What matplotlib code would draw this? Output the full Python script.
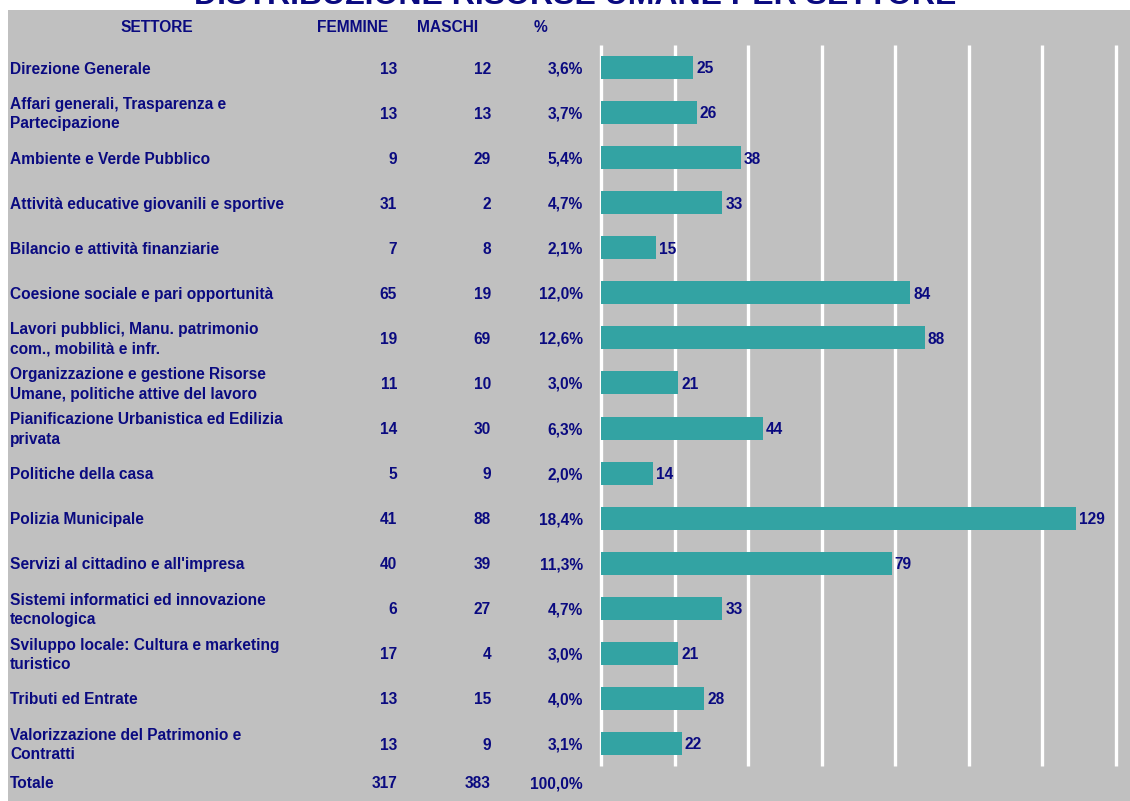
import matplotlib
matplotlib.use("Agg")
import matplotlib.pyplot as plt
from matplotlib.patches import Rectangle

settori = [
    "Direzione Generale",
    "Affari generali, Trasparenza e\nPartecipazione",
    "Ambiente e Verde Pubblico",
    "Attività educative giovanili e sportive",
    "Bilancio e attività finanziarie",
    "Coesione sociale e pari opportunità",
    "Lavori pubblici, Manu. patrimonio\ncom., mobilità e infr.",
    "Organizzazione e gestione Risorse\nUmane, politiche attive del lavoro",
    "Pianificazione Urbanistica ed Edilizia\nprivata",
    "Politiche della casa",
    "Polizia Municipale",
    "Servizi al cittadino e all'impresa",
    "Sistemi informatici ed innovazione\ntecnologica",
    "Sviluppo locale: Cultura e marketing\nturistico",
    "Tributi ed Entrate",
    "Valorizzazione del Patrimonio e\nContratti",
]
femmine = [13, 13, 9, 31, 7, 65, 19, 11, 14, 5, 41, 40, 6, 17, 13, 13]
maschi = [12, 13, 29, 2, 8, 19, 69, 10, 30, 9, 88, 39, 27, 4, 15, 9]
percentuali = ["3,6%", "3,7%", "5,4%", "4,7%", "2,1%", "12,0%", "12,6%", "3,0%",
               "6,3%", "2,0%", "18,4%", "11,3%", "4,7%", "3,0%", "4,0%", "3,1%"]
totali = [25, 26, 38, 33, 15, 84, 88, 21, 44, 14, 129, 79, 33, 21, 28, 22]
riga_totale = ["Totale", "317", "383", "100,0%"]
intestazioni = ["SETTORE", "FEMMINE", "MASCHI", "%"]
titolo = "DISTRIBUZIONE RISORSE UMANE PER SETTORE"
xticks = [0, 20, 40, 60, 80, 100, 120, 140]

W, H = 1130, 801
NAVY = "#0a0a80"
TEAL = "#33a3a3"
GRAY = "#c0c0c0"
FS = 11.2
plt.rcParams['font.family'] = ['Liberation Sans', 'DejaVu Sans']

fig = plt.figure(figsize=(W / 100, H / 100), dpi=100)
fig.patch.set_facecolor("white")
fig.patches.append(Rectangle((8 / W, 0), 1 - 8 / W, 1 - 10 / H,
                             transform=fig.transFigure, facecolor=GRAY,
                             edgecolor="none", zorder=-10))

def fx(px):
    return px / W

def fy(py):
    return 1 - py / H

# axes: x from 601 to 1116 px, y from 45 to 766 px
ax = fig.add_axes([fx(601), fy(766), fx(1116) - fx(601), (766 - 45) / H])
ax.set_facecolor("none")
n = len(settori)
ax.set_xlim(0, 140)
ax.set_ylim(n - 0.5, -0.5)
ax.vlines(xticks, -0.5, n - 0.5, colors="white", linewidth=2.4, zorder=0,
          clip_on=False)
ypos = list(range(n))
ax.barh(ypos, totali, height=0.51, color=TEAL, zorder=2)
for y, v in zip(ypos, totali):
    ax.annotate(str(v), (v, y), xytext=(2.2, -1.0), textcoords="offset points",
                ha="left", va="center", color=NAVY, fontsize=FS,
                fontweight="bold")
for s in ax.spines.values():
    s.set_visible(False)
ax.set_xticks([])
ax.set_yticks([])

# title (cut at top)
fig.text(fx(575), fy(4), titolo, ha="center", va="baseline", color=NAVY,
         fontsize=23, fontweight="bold", zorder=-5)

# headers
hx = [157, 353, 448, 540]
for x, t in zip(hx, intestazioni):
    fig.text(fx(x), fy(27), t, ha="center", va="center", color=NAVY,
             fontsize=FS, fontweight="bold")

# table rows
row0, step = 68.0, 45.07
for i in range(n):
    py = row0 + step * i + 1
    fig.text(fx(10), fy(py), settori[i], ha="left", va="center", color=NAVY,
             fontsize=FS, fontweight="bold", linespacing=1.38)
    fig.text(fx(397), fy(py), str(femmine[i]), ha="right", va="center",
             color=NAVY, fontsize=FS, fontweight="bold")
    fig.text(fx(491), fy(py), str(maschi[i]), ha="right", va="center",
             color=NAVY, fontsize=FS, fontweight="bold")
    fig.text(fx(583), fy(py), percentuali[i], ha="right", va="center",
             color=NAVY, fontsize=FS, fontweight="bold")

py = 784
fig.text(fx(10), fy(py), riga_totale[0], ha="left", va="center", color=NAVY,
         fontsize=FS, fontweight="bold")
for x, t in zip([397, 491, 583], riga_totale[1:]):
    fig.text(fx(x), fy(py), t, ha="right", va="center", color=NAVY,
             fontsize=FS, fontweight="bold")

fig.savefig("out.png", dpi=100)
